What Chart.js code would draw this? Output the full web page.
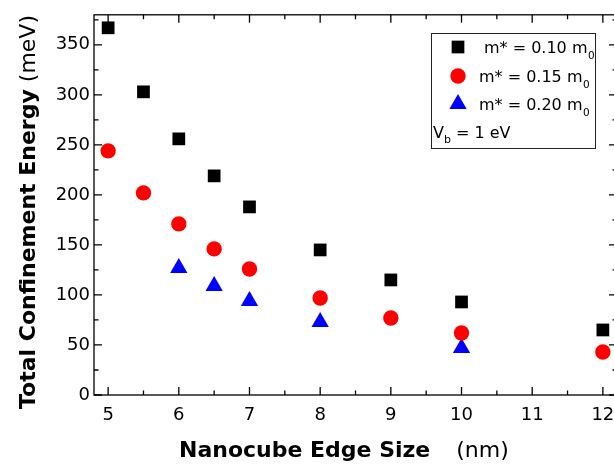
<!DOCTYPE html>
<html>
<head>
<meta charset="utf-8">
<script src="https://cdn.jsdelivr.net/npm/chart.js@4.4.1/dist/chart.umd.min.js"></script>
<style>
  html, body { margin: 0; padding: 0; background: #fff; overflow: hidden; }
  canvas { display: block; }
</style>
</head>
<body>
<canvas id="grafico" width="640" height="466"></canvas>
<script>
// Valores
const rotulosX = [5, 6, 7, 8, 9, 10, 11, 12];
const rotulosY = [0, 50, 100, 150, 200, 250, 300, 350];

const aresta010 = [5, 5.5, 6, 6.5, 7, 8, 9, 10, 12];
const energia010 = [367, 303, 256, 219, 188, 145, 115, 93, 65];

const aresta015 = [5, 5.5, 6, 6.5, 7, 8, 9, 10, 12];
const energia015 = [244, 202, 171, 146, 126, 97, 77, 62, 43];

const aresta020 = [6, 6.5, 7, 8, 10];
const energia020 = [127, 109, 94, 73, 47];

const legendas = ['m* = 0.10 m', 'm* = 0.15 m', 'm* = 0.20 m'];

const fonte = '"DejaVu Sans", "Liberation Sans", Arial, sans-serif';

const pontos = (xs, ys) => xs.map((x, i) => ({ x: x, y: ys[i] }));

// Moldura e marcas dos eixos (para dentro)
const moldura = {
  id: 'moldura',
  beforeDatasetsDraw(chart) {
    const { ctx, chartArea: a, scales: { x, y } } = chart;
    ctx.save();
    ctx.strokeStyle = '#000';
    ctx.lineWidth = 1.3;
    ctx.strokeRect(a.left, a.top, a.right - a.left, a.bottom - a.top);
    ctx.beginPath();
    rotulosX.forEach(v => {
      const px = x.getPixelForValue(v);
      ctx.moveTo(px, a.bottom); ctx.lineTo(px, a.bottom - 8);
      ctx.moveTo(px, a.top); ctx.lineTo(px, a.top + 8);
      const pm = x.getPixelForValue(v + 0.5);
      if (v + 0.5 < x.max) {
        ctx.moveTo(pm, a.bottom); ctx.lineTo(pm, a.bottom - 4.5);
        ctx.moveTo(pm, a.top); ctx.lineTo(pm, a.top + 4.5);
      }
    });
    rotulosY.forEach(v => {
      const py = y.getPixelForValue(v);
      ctx.moveTo(a.left, py); ctx.lineTo(a.left + 8, py);
      ctx.moveTo(a.right, py); ctx.lineTo(a.right - 8, py);
      const pm = y.getPixelForValue(v + 25);
      if (v + 25 < y.max) {
        ctx.moveTo(a.left, pm); ctx.lineTo(a.left + 4.5, pm);
        ctx.moveTo(a.right, pm); ctx.lineTo(a.right - 4.5, pm);
      }
    });
    ctx.stroke();
    ctx.restore();
  }
};

// Títulos dos eixos (parte em negrito, parte normal)
const titulos = {
  id: 'titulos',
  afterDraw(chart) {
    const { ctx } = chart;
    ctx.save();
    ctx.fillStyle = '#000';
    ctx.textBaseline = 'alphabetic';
    ctx.textAlign = 'left';

    // eixo x
    ctx.font = 'bold 22px ' + fonte;
    ctx.fillText('Nanocube Edge Size', 179, 457);
    let w = ctx.measureText('Nanocube Edge Size').width;
    ctx.font = '22px ' + fonte;
    ctx.fillText('(nm)', 179 + w + 26, 457);

    // eixo y
    ctx.translate(35, 409);
    ctx.rotate(-Math.PI / 2);
    ctx.font = 'bold 22px ' + fonte;
    ctx.fillText('Total Confinement Energy', 0, 0);
    w = ctx.measureText('Total Confinement Energy').width;
    ctx.font = '22px ' + fonte;
    ctx.fillText(' (meV)', w, 0);
    ctx.restore();
  }
};

// Legenda com subscritos
const legenda = {
  id: 'legenda',
  afterDraw(chart) {
    const { ctx } = chart;
    ctx.save();
    ctx.strokeStyle = '#222';
    ctx.lineWidth = 1;
    ctx.strokeRect(431.5, 33.5, 164, 115);

    const linhas = [
      { y: 53, tx: 484, my: 47 },
      { y: 81.5, tx: 479, my: 76 },
      { y: 110, tx: 479, my: 104 }
    ];
    chart.data.datasets.forEach((ds, i) => {
      const l = linhas[i];
      ctx.fillStyle = ds.backgroundColor;
      Chart.helpers.drawPoint(ctx, {
        pointStyle: ds.pointStyle, radius: ds.pointRadius, rotation: 0, borderWidth: 0
      }, 458, l.my);
      ctx.fillStyle = '#000';
      ctx.font = '16px ' + fonte;
      ctx.fillText(legendas[i], l.tx, l.y);
      const w = ctx.measureText(legendas[i]).width;
      ctx.font = '10.5px ' + fonte;
      ctx.fillText('0', l.tx + w + 0.5, l.y + 6);
    });

    ctx.fillStyle = '#000';
    ctx.font = '16px ' + fonte;
    ctx.fillText('V', 433, 138);
    let x = 433 + ctx.measureText('V').width;
    ctx.font = '11px ' + fonte;
    ctx.fillText('b', x, 143);
    x += ctx.measureText('b').width;
    ctx.font = '16px ' + fonte;
    ctx.fillText(' = 1 eV', x, 138);
    ctx.restore();
  }
};

const ctx = document.getElementById('grafico').getContext('2d');

const grafico = new Chart(ctx, {
  type: 'scatter',
  data: {
    datasets: [{
      label: 'm* = 0.10 m0',
      data: pontos(aresta010, energia010),
      pointStyle: 'rect',
      pointRadius: 9,
      backgroundColor: '#000000',
      borderWidth: 0
    }, {
      label: 'm* = 0.15 m0',
      data: pontos(aresta015, energia015),
      pointStyle: 'circle',
      pointRadius: 7.7,
      backgroundColor: '#ff0000',
      borderWidth: 0
    }, {
      label: 'm* = 0.20 m0',
      data: pontos(aresta020, energia020),
      pointStyle: 'triangle',
      pointRadius: 10,
      backgroundColor: '#0000ff',
      borderWidth: 0
    }]
  },
  options: {
    responsive: false,
    animation: false,
    clip: false,
    layout: { padding: { top: 10, left: 0, right: 23, bottom: 0 } },
    plugins: {
      legend: { display: false },
      tooltip: { enabled: false }
    },
    elements: { point: { hoverRadius: 0 } },
    scales: {
      x: {
        type: 'linear',
        min: 4.8,
        max: 12.2,
        afterBuildTicks: s => { s.ticks = rotulosX.map(v => ({ value: v })); },
        afterFit: s => { s.height = 71; },
        grid: { display: false, drawTicks: false },
        border: { display: false },
        ticks: {
          color: '#000',
          padding: 10,
          maxRotation: 0,
          font: { family: fonte, size: 18 }
        }
      },
      y: {
        type: 'linear',
        min: 0,
        max: 380,
        afterBuildTicks: s => { s.ticks = rotulosY.map(v => ({ value: v })); },
        afterFit: s => { s.width = 94; },
        grid: { display: false, drawTicks: false },
        border: { display: false },
        ticks: {
          color: '#000',
          padding: 4,
          font: { family: fonte, size: 18 }
        }
      }
    }
  },
  plugins: [moldura, titulos, legenda]
});
</script>
</body>
</html>
